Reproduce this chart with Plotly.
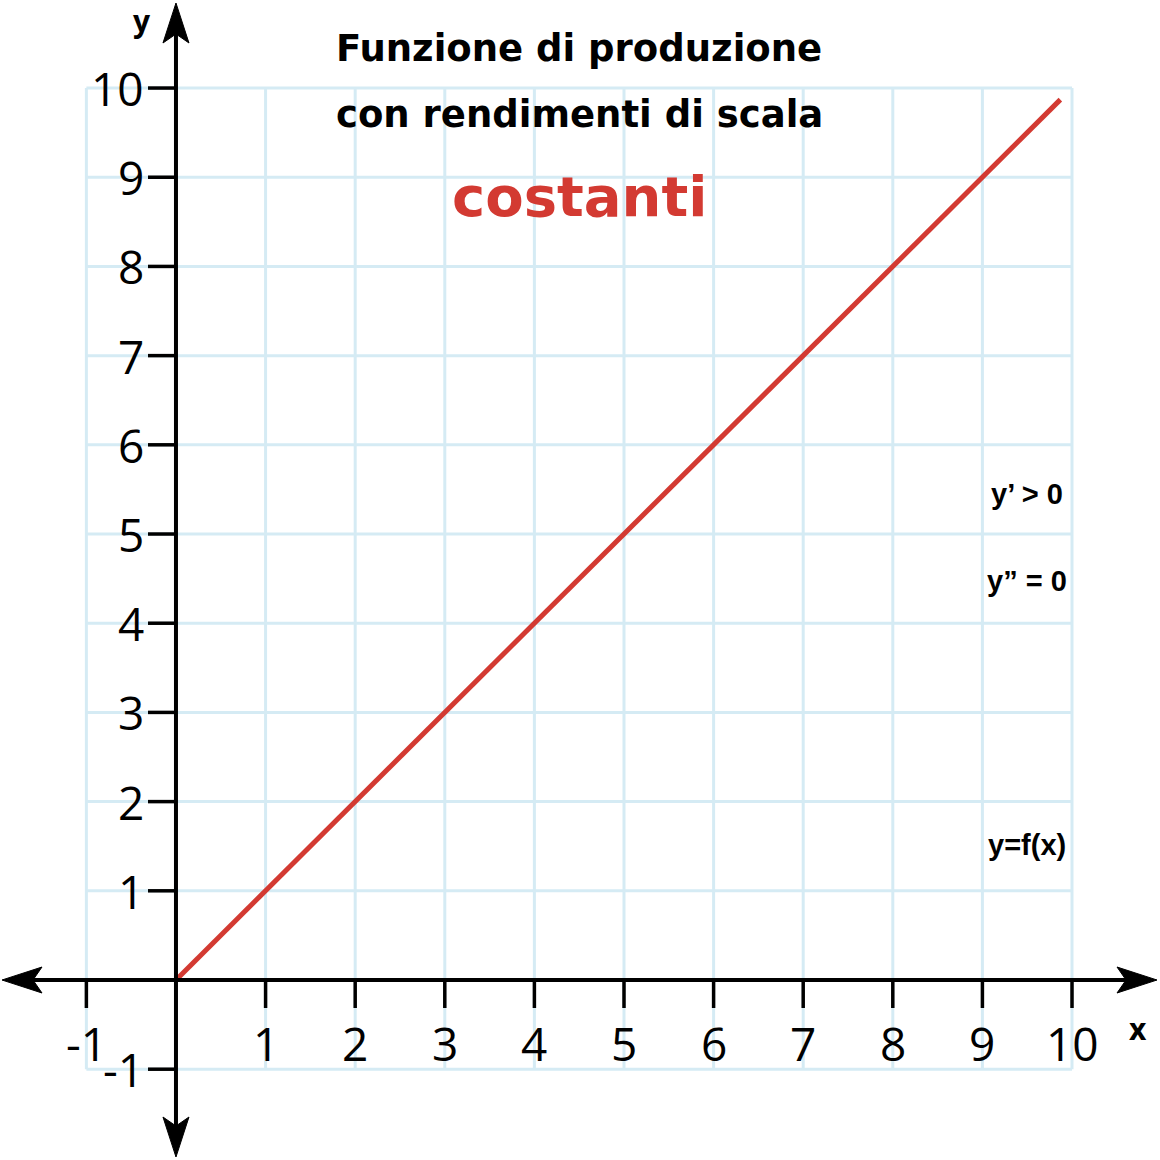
import plotly.graph_objects as go

# ---- data ----
line_x = [0.0, 9.87]
line_y = [0.0, 9.87]
x_ticks = [-1, 1, 2, 3, 4, 5, 6, 7, 8, 9, 10]
y_ticks = [-1, 1, 2, 3, 4, 5, 6, 7, 8, 9, 10]
x_tick_labels = ["-1", "1", "2", "3", "4", "5", "6", "7", "8", "9", "10"]
y_tick_labels = ["-1", "1", "2", "3", "4", "5", "6", "7", "8", "9", "10"]
grid_min, grid_max = -1, 10
title_lines = ["Funzione di produzione", "con rendimenti di scala"]
title_highlight = "costanti"
notes = ["y\u2019 > 0", "y\u201d = 0", "y=f(x)"]
note_y = [5.45, 4.47, 1.51]
note_x = 9.5

X_RANGE = [-1.964, 10.982]
Y_RANGE = [-2.018, 10.987]
PX_X = (X_RANGE[1] - X_RANGE[0]) / 1160
PX_Y = (Y_RANGE[1] - Y_RANGE[0]) / 1160

GRID_COLOR = "#d5ebf4"
RED = "#d33a32"

fig = go.Figure()
shapes = []
annotations = []

# grid
for g in range(grid_min, grid_max + 1):
    shapes.append(dict(type="line", xref="x", yref="y", x0=g, x1=g, y0=grid_min, y1=grid_max,
                       line=dict(color=GRID_COLOR, width=3), layer="below"))
    shapes.append(dict(type="line", xref="x", yref="y", y0=g, y1=g, x0=grid_min, x1=grid_max,
                       line=dict(color=GRID_COLOR, width=3), layer="below"))

# axes
shapes.append(dict(type="line", xref="x", yref="y", x0=X_RANGE[0] + 30 * PX_X, x1=X_RANGE[1] - 30 * PX_X,
                   y0=0, y1=0, line=dict(color="black", width=4)))
shapes.append(dict(type="line", xref="x", yref="y", y0=Y_RANGE[0] + 30 * PX_Y, y1=Y_RANGE[1] - 30 * PX_Y,
                   x0=0, x1=0, line=dict(color="black", width=4)))

def arrow(tip_x, tip_y, dx, dy):
    L, N, H = 40, 31, 13
    if dx != 0:
        bx = tip_x - dx * L * PX_X
        nx = tip_x - dx * N * PX_X
        h = H * PX_Y
        return f"M {tip_x},{tip_y} L {bx},{tip_y + h} L {nx},{tip_y} L {bx},{tip_y - h} Z"
    else:
        by = tip_y - dy * L * PX_Y
        ny = tip_y - dy * N * PX_Y
        w = H * PX_X
        return f"M {tip_x},{tip_y} L {tip_x + w},{by} L {tip_x},{ny} L {tip_x - w},{by} Z"

for p in [arrow(X_RANGE[0] + 2 * PX_X, 0, -1, 0), arrow(X_RANGE[1] - 3 * PX_X, 0, 1, 0),
          arrow(0, Y_RANGE[1] - 3 * PX_Y, 0, 1), arrow(0, Y_RANGE[0] + 3 * PX_Y, 0, -1)]:
    shapes.append(dict(type="path", xref="x", yref="y", path=p, fillcolor="black",
                       line=dict(color="black", width=1)))

# ticks
TICK = 28
for t in x_ticks:
    shapes.append(dict(type="line", xref="x", yref="y", x0=t, x1=t, y0=0, y1=-TICK * PX_Y,
                       line=dict(color="black", width=3.5)))
for t in y_ticks:
    shapes.append(dict(type="line", xref="x", yref="y", y0=t, y1=t, x0=0, x1=-TICK * PX_X,
                       line=dict(color="black", width=3.5)))

TICK_FONT = dict(family="Open Sans", size=46, color="black")
for t, lab in zip(x_ticks, x_tick_labels):
    annotations.append(dict(x=t, y=-63 * PX_Y, xref="x", yref="y", text=lab, showarrow=False,
                            font=TICK_FONT, xanchor="center", yanchor="middle"))
for t, lab in zip(y_ticks, y_tick_labels):
    annotations.append(dict(x=-30 * PX_X, y=t, xref="x", yref="y", text=lab, showarrow=False,
                            font=TICK_FONT, xanchor="right", yanchor="middle"))

# axis names
annotations.append(dict(x=-34 * PX_X, y=Y_RANGE[1] - 20 * PX_Y, xref="x", yref="y", text="y",
                        showarrow=False, font=dict(family="Open Sans", size=30, color="black", weight="bold"),
                        xanchor="center", yanchor="middle"))
annotations.append(dict(x=X_RANGE[1] - 22 * PX_X, y=-48 * PX_Y, xref="x", yref="y", text="x",
                        showarrow=False, font=dict(family="Open Sans", size=30, color="black", weight="bold"),
                        xanchor="center", yanchor="middle"))

# titles
TITLE_FONT = dict(family="DejaVu Sans", size=37, color="black", weight="bold")
annotations.append(dict(x=4.5, y=0.9585, xref="x", yref="paper", text=title_lines[0], showarrow=False,
                        font=TITLE_FONT, xanchor="center", yanchor="middle"))
annotations.append(dict(x=4.5, y=0.9015, xref="x", yref="paper", text=title_lines[1], showarrow=False,
                        font=TITLE_FONT, xanchor="center", yanchor="middle"))
annotations.append(dict(x=4.5, y=0.831, xref="x", yref="paper", text=title_highlight, showarrow=False,
                        font=dict(family="DejaVu Sans", size=56, color=RED, weight="bold"),
                        xanchor="center", yanchor="middle"))

# notes
for txt, ny in zip(notes, note_y):
    annotations.append(dict(x=note_x, y=ny, xref="x", yref="y", text=txt, showarrow=False,
                            font=dict(family="Liberation Sans", size=29, color="black", weight="bold"),
                            xanchor="center", yanchor="middle"))

fig.add_trace(go.Scatter(x=line_x, y=line_y, mode="lines", line=dict(color=RED, width=5),
                         hoverinfo="skip", showlegend=False))

fig.update_layout(
    width=1160, height=1160, margin=dict(l=0, r=0, t=0, b=0),
    paper_bgcolor="white", plot_bgcolor="white",
    xaxis=dict(range=X_RANGE, visible=False, fixedrange=True),
    yaxis=dict(range=Y_RANGE, visible=False, fixedrange=True),
    shapes=shapes, annotations=annotations, showlegend=False,
)

fig.write_html("out.html")
